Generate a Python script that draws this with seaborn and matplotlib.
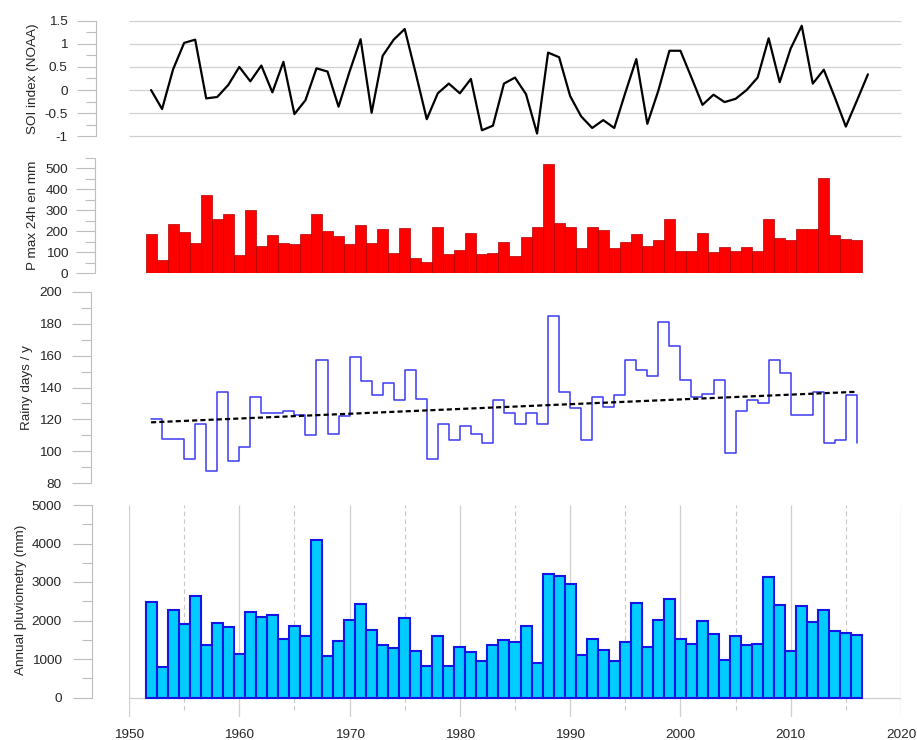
import matplotlib
matplotlib.use('Agg')
import matplotlib.pyplot as plt
import seaborn as sns
from matplotlib.ticker import FixedLocator, FuncFormatter

# ---------------- data ----------------
soi_years = list(range(1952, 2018))
soi_values = [0.00, -0.41, 0.45, 1.02, 1.09, -0.18, -0.15, 0.11, 0.50, 0.19,
              0.53, -0.05, 0.61, -0.52, -0.22, 0.47, 0.40, -0.36, 0.40, 1.10,
              -0.49, 0.74, 1.09, 1.32, 0.36, -0.63, -0.07, 0.14, -0.07, 0.24,
              -0.87, -0.77, 0.14, 0.27, -0.09, -0.94, 0.81, 0.71, -0.13, -0.57,
              -0.82, -0.65, -0.82, -0.06, 0.67, -0.73, -0.01, 0.85, 0.85, 0.27,
              -0.32, -0.10, -0.26, -0.19, 0.00, 0.27, 1.12, 0.17, 0.90, 1.39,
              0.14, 0.44, -0.16, -0.79, -0.23, 0.34]
soi_grid = [-1, -0.5, 0, 0.5, 1, 1.5]

years = list(range(1952, 2017))
pmax24h = [185, 65, 233, 195, 144, 373, 260, 284, 87, 300,
           130, 181, 146, 140, 186, 284, 203, 176, 141, 229,
           144, 213, 97, 216, 75, 52, 222, 92, 111, 192,
           90, 97, 148, 84, 173, 219, 519, 238, 221, 119,
           221, 205, 122, 148, 189, 130, 157, 260, 106, 108,
           192, 102, 127, 108, 127, 108, 260, 167, 159, 210,
           210, 454, 184, 162, 159]
rainy_days = [120, 108, 108, 95, 117, 88, 137, 94, 103, 134,
              124, 124, 125, 123, 110, 157, 111, 122, 159, 144,
              135, 143, 132, 151, 133, 95, 117, 107, 116, 111,
              105, 132, 124, 117, 124, 117, 185, 137, 127, 107,
              134, 128, 135, 157, 151, 147, 181, 166, 145, 134,
              136, 145, 99, 125, 132, 130, 157, 149, 123, 123,
              137, 105, 107, 135, 105]
annual_rain = [2480, 780, 2270, 1920, 2640, 1370, 1940, 1840, 1120, 2220,
               2090, 2130, 1530, 1860, 1590, 4100, 1080, 1480, 2010, 2440,
               1750, 1370, 1280, 2070, 1200, 830, 1610, 820, 1320, 1180,
               940, 1370, 1490, 1440, 1850, 890, 3220, 3160, 2940, 1110,
               1520, 1240, 960, 1430, 2460, 1320, 2020, 2560, 1520, 1380,
               1980, 1650, 980, 1590, 1370, 1400, 3140, 2410, 1220, 2380,
               1970, 2260, 1740, 1670, 1630]
decade_ticks = [1950, 1960, 1970, 1980, 1990, 2000, 2010, 2020]
mid_decades = [1955, 1965, 1975, 1985, 1995, 2005, 2015]

# ---------------- style ----------------
sns.set_theme(style='white')
plt.rcParams['font.family'] = ['Liberation Sans', 'DejaVu Sans']
plt.rcParams['axes.unicode_minus'] = False

W, H = 917, 740
fig = plt.figure(figsize=(W / 100, H / 100), dpi=100)
AXC = '#bdbdbd'
TXT = '#262626'
FS = 9.7
PT = 0.72  # points per pixel at 100 dpi


def px_axes(top, bottom):
    return fig.add_axes([129 / W, 1 - bottom / H, 772 / W, (bottom - top) / H])


def style_left(ax, outward_px, lo, hi, majors, minors, pad_px):
    for s in ['top', 'right', 'bottom']:
        ax.spines[s].set_visible(False)
    sp = ax.spines['left']
    sp.set_visible(True)
    sp.set_position(('outward', outward_px * PT))
    sp.set_color(AXC)
    sp.set_linewidth(0.8)
    sp.set_bounds(lo, hi)
    ax.yaxis.set_major_locator(FixedLocator(majors))
    ax.yaxis.set_minor_locator(FixedLocator(minors))
    ax.yaxis.set_major_formatter(FuncFormatter(lambda v, p: f'{v:g}'))
    ax.tick_params(axis='y', which='major', left=True, length=19 * PT, width=0.8,
                   color=AXC, labelsize=FS, labelcolor=TXT, pad=pad_px * PT)
    ax.tick_params(axis='y', which='minor', left=True, length=10 * PT, width=0.8,
                   color=AXC)
    ax.set_xlim(1950, 2020)
    ax.set_xlabel('')
    ax.set_ylabel('')
    ax.grid(False)
    ax.patch.set_alpha(0)


# ---------------- panel 1 : SOI ----------------
ax1 = px_axes(20.7, 136.3)
ax1.hlines(soi_grid, 1950, 2020, color='#d0d0d0', lw=0.9, zorder=0, clip_on=False)
sns.lineplot(x=soi_years, y=soi_values, color='black', lw=1.6, ax=ax1, zorder=3)
ax1.set_ylim(-1, 1.5)
style_left(ax1, 33, -1, 1.5, soi_grid, [-0.75, -0.25, 0.25, 0.75, 1.25], 9.3)
ax1.tick_params(axis='x', bottom=False, labelbottom=False)

# ---------------- panel 2 : P max 24h ----------------
ax2 = px_axes(157.7, 273.3)
sns.barplot(x=years, y=pmax24h, native_scale=True, width=1, color='#ff0000',
            edgecolor='#b00000', linewidth=0.5, saturation=1, errorbar=None, ax=ax2)
ax2.set_ylim(0, 550)
style_left(ax2, 34, 0, 550, [0, 100, 200, 300, 400, 500],
           [50, 150, 250, 350, 450, 550], 7.7)
ax2.tick_params(axis='x', bottom=False, labelbottom=False)

# ---------------- panel 3 : rainy days ----------------
ax3 = px_axes(291.7, 483.3)
sns.lineplot(x=years, y=rainy_days, drawstyle='steps-post', color='#3b3bf2',
             lw=1.1, ax=ax3)
sns.regplot(x=years, y=rainy_days, scatter=False, ci=None, ax=ax3, color='black',
            line_kws=dict(ls=(0, (2.3, 1.4)), lw=1.6))
ax3.set_ylim(80, 200)
style_left(ax3, 38, 80, 200, [80, 100, 120, 140, 160, 180, 200],
           [90, 110, 130, 150, 170, 190], 10.3)
ax3.tick_params(axis='x', bottom=False, labelbottom=False)

# ---------------- panel 4 : annual pluviometry ----------------
ax4 = px_axes(505, 716.75)
ax4.vlines(decade_ticks, -500, 5000, color='#cfcfcf', lw=0.9, zorder=0)
ax4.vlines(mid_decades, -330, 5000, color='#c8c8c8', lw=0.8,
           linestyles=(0, (4, 3)), zorder=0)
ax4.hlines(0, 1950, 2020, color='#cfcfcf', lw=0.9, zorder=0)
sns.barplot(x=years, y=annual_rain, native_scale=True, width=1, color='#00ccff',
            edgecolor='#1414e6', linewidth=1.5, saturation=1, errorbar=None, ax=ax4,
            zorder=2)
ax4.set_ylim(-500, 5000)
style_left(ax4, 37.3, 0, 5000, [0, 1000, 2000, 3000, 4000, 5000],
           [500, 1500, 2500, 3500, 4500], 11)
ax4.set_xticks(decade_ticks)
ax4.set_xticklabels([str(t) for t in decade_ticks])
ax4.tick_params(axis='x', bottom=True, length=0, labelbottom=True, labelsize=FS,
                labelcolor=TXT, pad=9)
ax4.set_xlim(1950, 2020)

# ---------------- axis titles ----------------
for x, y, s in [(33, 78.5, 'SOI index (NOAA)'),
                (33, 215.5, 'P max 24h en mm'),
                (27, 387.5, 'Rainy days / y'),
                (21, 600, 'Annual pluviometry (mm)')]:
    fig.text(x / W, 1 - y / H, s, rotation=90, ha='center', va='center',
             fontsize=FS, color=TXT)

fig.savefig('out.png', dpi=100)
